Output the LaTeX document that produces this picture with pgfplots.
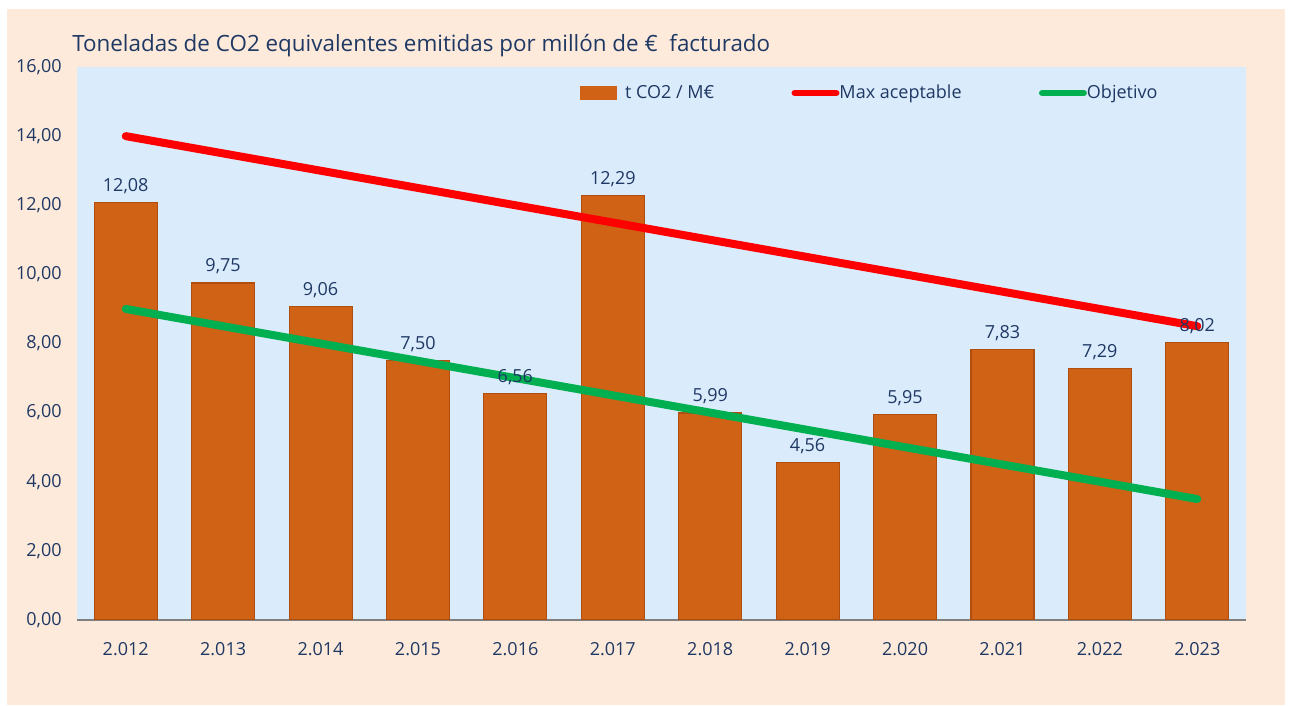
\documentclass[border=0pt]{standalone}
\usepackage{pgfplots}
\pgfplotsset{compat=1.18}
\usepackage{fontspec}
\setmainfont{Open Sans}
\definecolor{peach}{RGB}{253,234,218}
\definecolor{plotbg}{RGB}{218,236,252}
\definecolor{txt}{RGB}{31,56,100}
\definecolor{barc}{RGB}{208,98,22}
\definecolor{baredge}{RGB}{176,78,16}
\definecolor{redl}{RGB}{255,0,0}
\definecolor{greenl}{RGB}{0,176,80}
\begin{document}
\begin{tikzpicture}
\fill[white] (-57.75pt,-64.5pt) rectangle (910.5pt,465pt);
\fill[peach] (-52.5pt,-63.75pt) rectangle (906pt,458.25pt);
\node[anchor=west, text=txt, font=\fontsize{16.8}{20}\selectfont, inner sep=0pt] at (-3.75pt,430.5pt) {Toneladas de CO2 equivalentes emitidas por millón de € \ facturado};
\begin{axis}[
  at={(0pt,0pt)}, anchor=south west,
  scale only axis, width=876.75pt, height=414.75pt,
  xmin=-0.5, xmax=11.5, ymin=0, ymax=16,
  ytick={0,2,...,16},
  xtick={0,...,11},
  xticklabels={2.012,2.013,2.014,2.015,2.016,2.017,2.018,2.019,2.020,2.021,2.022,2.023},
  axis background/.style={fill=plotbg},
  axis x line*=bottom, axis y line*=left,
  y axis line style={draw=none},
  x axis line style={draw=gray, line width=0.8pt, -},
  major tick length=0pt,
  tick label style={font=\fontsize{13.5}{16}\selectfont, text=txt},
  yticklabel style={xshift=-8pt, /pgf/number format/fixed, /pgf/number format/fixed zerofill, /pgf/number format/precision=2, /pgf/number format/use comma, /pgf/number format/assume math mode=true},
  xticklabel style={yshift=-13.5pt},
  legend style={at={(0.430,0.953)}, anchor=west, draw=none, fill=none, inner sep=0pt,
    font=\fontsize{13.5}{16}\selectfont, text=txt,
    /tikz/every even column/.append style={column sep=56pt},
    /tikz/every odd column/.append style={column sep=-2pt}},
  legend columns=3,
]
\addplot[ybar, bar width=47.25pt, bar shift=0pt, fill=barc, draw=baredge, line width=0.8pt,
  legend image code/.code={\fill[barc] (0pt,-4.5pt) rectangle (27pt,4.5pt); \path (33pt,0pt);}]
  coordinates {(0,12.08) (1,9.75) (2,9.06) (3,7.50) (4,6.56) (5,12.29) (6,5.99) (7,4.56) (8,5.95) (9,7.83) (10,7.29) (11,8.02)};
\addlegendentry{t CO2 / M€}
\addplot[redl, line width=6pt, line cap=round, no marks,
  legend image code/.code={\draw[redl, line width=5pt, line cap=round] (2pt,0pt) -- (33pt,0pt);}]
  coordinates {(0,14) (1,13.5) (2,13) (3,12.5) (4,12) (5,11.5) (6,11) (7,10.5) (8,10) (9,9.5) (10,9) (11,8.5)};
\addlegendentry{Max aceptable}
\addplot[greenl, line width=6pt, line cap=round, no marks,
  legend image code/.code={\draw[greenl, line width=5pt, line cap=round] (2pt,0pt) -- (33pt,0pt);}]
  coordinates {(0,9) (1,8.5) (2,8) (3,7.5) (4,7) (5,6.5) (6,6) (7,5.5) (8,5) (9,4.5) (10,4) (11,3.5)};
\addlegendentry{Objetivo}
\addplot[ybar, bar width=47.25pt, bar shift=0pt, draw=none, fill=none, forget plot,
  nodes near coords,
  nodes near coords style={font=\fontsize{13.5}{16}\selectfont, text=txt, yshift=3pt,
    /pgf/number format/fixed, /pgf/number format/fixed zerofill, /pgf/number format/precision=2, /pgf/number format/use comma, /pgf/number format/assume math mode=true}]
  coordinates {(0,12.08) (1,9.75) (2,9.06) (3,7.50) (4,6.56) (5,12.29) (6,5.99) (7,4.56) (8,5.95) (9,7.83) (10,7.29) (11,8.02)};
\end{axis}
\end{tikzpicture}
\end{document}
